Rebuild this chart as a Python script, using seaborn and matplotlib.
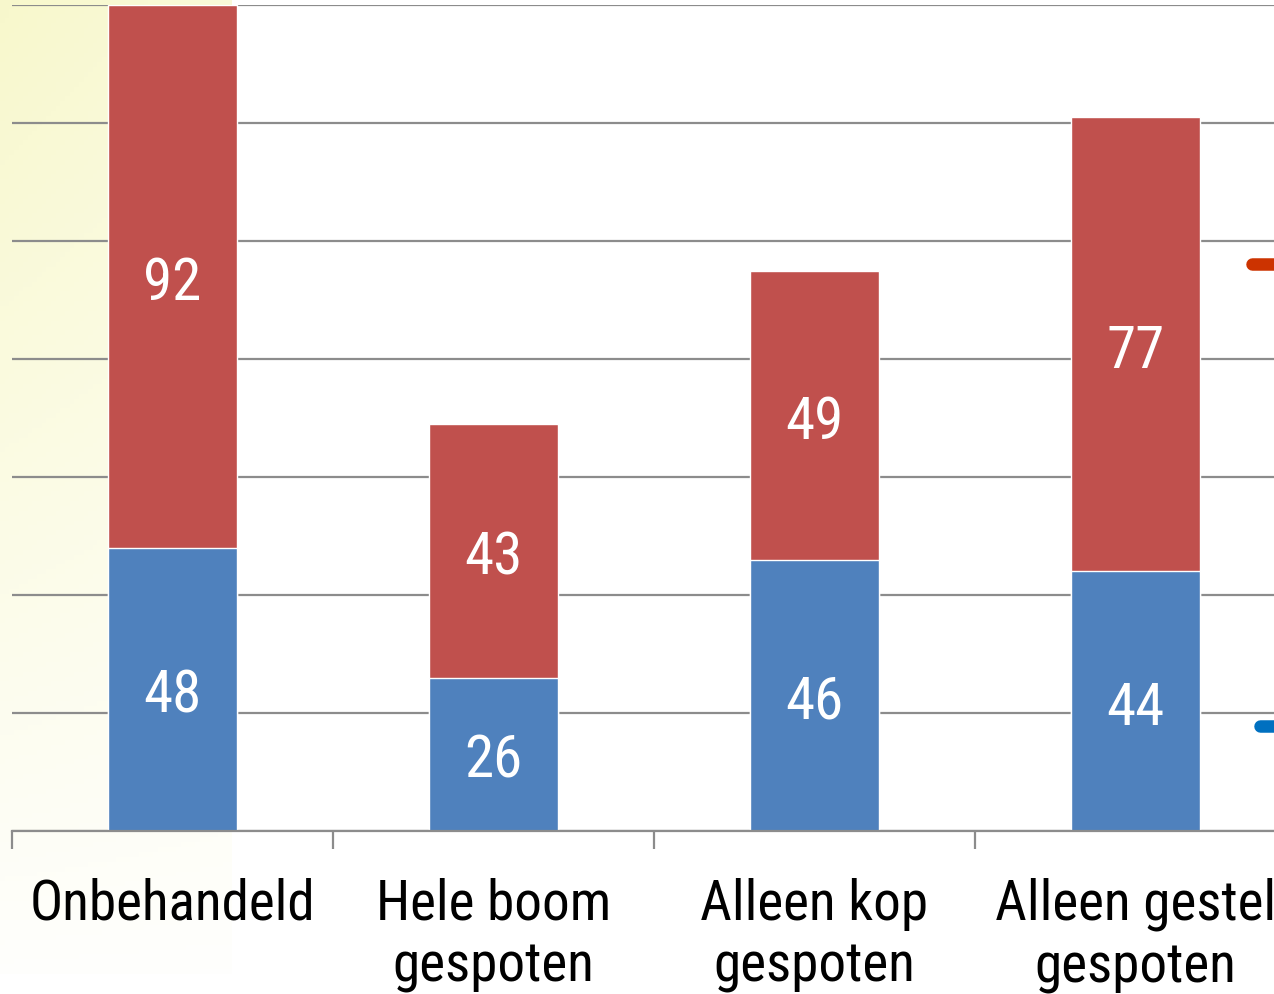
import numpy as np
import matplotlib
matplotlib.use("Agg")
import matplotlib.pyplot as plt
from matplotlib.lines import Line2D
from matplotlib.font_manager import FontProperties
import seaborn as sns
from matplotlib import font_manager

categories = ["Onbehandeld", "Hele boom\ngespoten", "Alleen kop\ngespoten", "Alleen gestel\ngespoten"]
blue_values = [48, 26, 46, 44]
red_values = [92, 43, 49, 77]
totals = [b + r for b, r in zip(blue_values, red_values)]

sns.set_theme(style="white")
available = set(f.name for f in font_manager.fontManager.ttflist)
main_font = "Liberation Sans"
for cand in ["Roboto Condensed", "Archivo Narrow", "Liberation Sans Narrow", "Barlow Semi Condensed"]:
    if cand in available:
        main_font = cand
        break
plt.rcParams["font.family"] = [main_font, "DejaVu Sans"]

RED = "#C0504D"
BLUE = "#4F81BD"
GRID = "#8C8C8C"

fig = plt.figure(figsize=(12.74, 9.95), dpi=100)
renderer = fig.canvas.get_renderer()

def measure(s, size):
    fp = FontProperties(family=[main_font, "DejaVu Sans"], size=size)
    w, h, d = renderer.get_text_width_height_descent(s, fp, ismath=False)
    return w, h, d

# tick label size: compromise between width ("Onbehandeld" ~291 px) and cap height (~39 px)
w0, _, _ = measure("Onbehandeld", 40)
size_w = 40 * 291 / w0
_, hh, hd = measure("H", 40)
size_h = 40 * 39 / (hh - hd)
tick_size = np.sqrt(size_w * size_h)
_, lh, ld = measure("lp", tick_size)
line_sp = (62 - ld) / (lh - ld)
pad_px = 920 - 832 - (lh - ld)
pad_pt = pad_px * 72 / 100

# data label size: digit height ~ 43 px
_, dh, dd = measure("92", 40)
lab_size = 40 * 43 / (dh - dd)

# yellow gradient panel on the left
bg = fig.add_axes([0, 20/995, 232/1274, 975/995], zorder=0)
h, w = 200, 50
vert = np.linspace(1.0, 0.05, h)[:, None]
horiz = np.linspace(1.0, 0.75, w)[None, :]
alpha = vert * horiz
top = np.array([0.972, 0.972, 0.80])
white = np.array([1.0, 1.0, 1.0])
img = white[None, None, :] * (1 - alpha[..., None]) + top[None, None, :] * alpha[..., None]
bg.imshow(img, aspect="auto", extent=[0, 1, 0, 1])
bg.axis("off")

ax = fig.add_axes([12/1274, 163/995, 1284/1274, 826/995], zorder=1)
ax.set_facecolor("none")

x = np.arange(len(categories))
sns.barplot(x=x, y=totals, color=RED, width=0.4, saturation=1, ax=ax, zorder=3, native_scale=True)
sns.barplot(x=x, y=blue_values, color=BLUE, width=0.4, saturation=1, ax=ax, zorder=4, native_scale=True)

ax.set_xlim(-0.5, 3.5)
ax.set_ylim(0, 140)
ax.set_yticks(np.arange(0, 141, 20))
ax.set_yticklabels([])
ax.tick_params(axis="y", length=0)
ax.grid(axis="y", color=GRID, lw=1.6, zorder=1)
ax.set_axisbelow(True)
for s in ["left", "right", "top"]:
    ax.spines[s].set_visible(False)
ax.spines["bottom"].set_color(GRID)
ax.spines["bottom"].set_linewidth(1.6)
ax.spines["bottom"].set_zorder(5)

ax.set_xticks(np.arange(-0.5, 3.6, 1.0))
ax.set_xticklabels([])
ax.tick_params(axis="x", which="major", length=13, width=1.6, color=GRID, direction="out", bottom=True)
ax.set_xticks(x, minor=True)
ax.set_xticklabels(categories, minor=True, fontsize=tick_size, color="black", linespacing=line_sp)
ax.tick_params(axis="x", which="minor", length=0, pad=pad_pt)
ax.set_xlabel("")
ax.set_ylabel("")

for i in range(len(categories)):
    ax.text(x[i], blue_values[i] / 2, str(blue_values[i]), ha="center", va="center_baseline",
            color="white", fontsize=lab_size, zorder=6)
    ax.text(x[i], blue_values[i] + red_values[i] / 2, str(red_values[i]), ha="center",
            va="center_baseline", color="white", fontsize=lab_size, zorder=6)

# partially visible series markers at the right edge
fig.add_artist(Line2D([1252/1274, 1290/1274], [1 - 265/995, 1 - 265/995], color="#CC3300",
                      lw=9, solid_capstyle="round", transform=fig.transFigure))
fig.add_artist(Line2D([1260/1274, 1290/1274], [1 - 727/995, 1 - 727/995], color="#0070C0",
                      lw=9, solid_capstyle="round", transform=fig.transFigure))

fig.savefig("out.png", dpi=100)
